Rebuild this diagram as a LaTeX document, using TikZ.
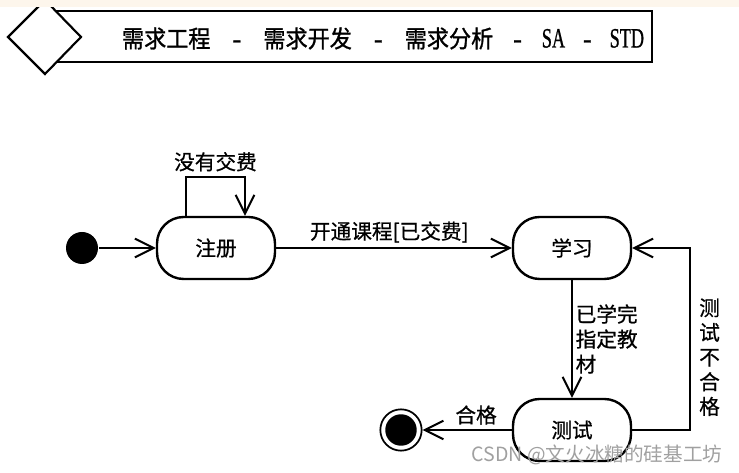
\documentclass[tikz,border=0pt]{standalone}
\usepackage{fontspec}
\usetikzlibrary{arrows.meta}
\usetikzlibrary{positioning}

\newfontfamily\cjk{Noto Sans CJK SC}
\newfontfamily\cjkbody[FakeBold=0.7]{Noto Sans CJK SC}
\newfontfamily\cjkhdr[FakeBold=1.2]{Noto Sans CJK SC}
\newfontfamily\hdrlatin[FakeBold=1]{Liberation Serif}
\definecolor{stripbg}{RGB}{253,246,236}
\definecolor{markgray}{RGB}{160,160,160}

\newcommand\hdrlat[1]{\scalebox{0.65}[1]{\hdrlatin\fontsize{21pt}{24pt}\selectfont #1}}
\newcommand\hdrdash[1]{\hspace{#1}{\hdrlatin\fontsize{19.3pt}{22pt}\selectfont -}\hspace{#1}}

\begin{document}
\begin{tikzpicture}[x=0.75pt,y=-0.75pt,->,>={Straight Barb[length=14pt,width=14pt]},line width=1.5pt,
                    font=\cjkbody\fontsize{15.5pt}{18.75pt}\selectfont,
                    state node/.style={draw,rounded corners=20pt,minimum width=88.5pt,minimum height=46.5pt,line width=1.8pt},
                    start node/.style={circle,fill,minimum size=24pt,inner sep=0pt},
                    final node/.style={circle,draw,line width=1.3pt,minimum size=31pt,inner sep=0pt,
                      path picture={\fill (path picture bounding box.center) circle (11.8pt);}}]

		\useasboundingbox (0,0) rectangle (739,473);

		% title bar
		\draw[-,line width=1.3pt] (50,11) rectangle (652,62);
		\draw[-,line width=1.6pt,fill=white] (8,37) -- (45,0) -- (81,37) -- (45,74) -- cycle;
		\fill[stripbg] (0,0) rectangle (739,7);
		\node[anchor=base west,inner sep=0pt,font=\cjkhdr\fontsize{16.6pt}{20pt}\selectfont] (title) at (121,47.5)
			{\scalebox{1}[1.08]{需求工程}\hdrdash{16.6pt}\scalebox{1}[1.08]{需求开发}\hdrdash{16.6pt}\scalebox{1}[1.08]{需求分析}\hdrdash{15pt}\hdrlat{SA}\hdrdash{13.5pt}\hdrlat{STD}};

		% states
		\node[state node] (reg) at (216,248) {注册};
		\node[start node] (initial) [left of=reg, node distance=100.5pt] {};
		\node[state node] (learn) [right of=reg, node distance=267pt] {学习};
		\node[state node] (test) [below of=learn, node distance=136.5pt] {测试};
		\node[final node] (final) [left of=test, node distance=128.25pt] {};

		\path
		(initial) edge (reg)
		(reg) edge node[above,pos=0.48] {开通课程[已交费]} (learn)
		(learn) edge node[right,align=left,inner sep=2pt] {已学完\\指定教\\材} (test)
		(test) edge node[above,pos=0.4] {合格} (final);

		\draw ([xshift=-22.5pt]reg.north) -- ++(0pt,29.25pt)
			-| node[above,pos=0.25] {没有交费} ([xshift=21.75pt]reg.north);
		\draw (test.east) -- ++(43.5pt,0pt)
			|- node[right,pos=0.2,inner sep=6pt,align=center,font=\cjkbody\fontsize{15.5pt}{18.5pt}\selectfont] {测\\试\\不\\合\\格} (learn.east);

		\node[text=markgray,font=\cjk\fontsize{14.7pt}{17pt}\selectfont] (mark) at (597,455) {CSDN @文火冰糖的硅基工坊};
	\end{tikzpicture}
\end{document}
